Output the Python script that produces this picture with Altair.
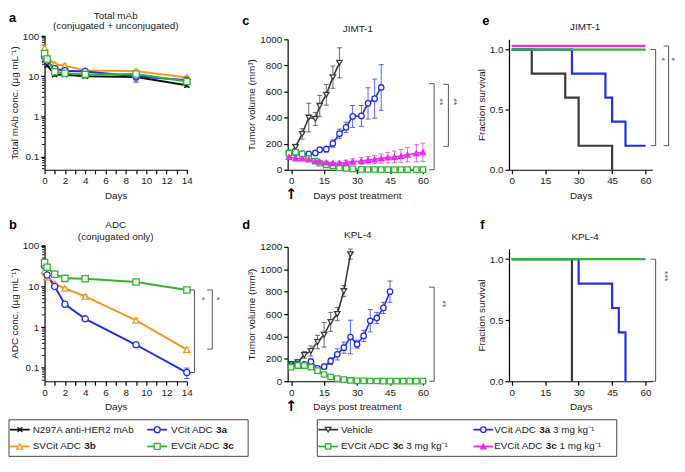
import altair as alt
import pandas as pd

FONT = "Liberation Sans"
INK = "#1a1a1a"
BR = "#555555"

C_BLACK = "#111111"
C_VEH = "#3a3a3a"
C_ORANGE = "#f7941d"
C_BLUE = "#1f2ee8"
C_GREEN = "#30b530"
C_MAGENTA = "#ec2aec"
X_PATH = "M-0.8,-0.8L0.8,0.8M-0.8,0.8L0.8,-0.8"

# ---------------- data: panels a, b (days after dosing) ----------------
pk_days = [0, 0.25, 1, 2, 4, 9, 14]

tot_n297a = [26, 19, 11, 11, 10, 9.6, 6.0]
tot_n297a_sd = [3, 2, 1, 1, 0.8, 2.4, 0.6]
tot_svcit = [51, 30, 20, 18.5, 14, 13.5, 9.4]
tot_svcit_sd = [9, 4, 2, 2, 1.5, 1.6, 1.0]
tot_vcit = [31, 24, 15.5, 13.8, 13.2, 10, 8.0]
tot_vcit_sd = [4, 3, 1.5, 1.2, 1.2, 2.0, 0.8]
tot_evcit = [37, 27, 13, 12, 11.2, 11.5, 7.4]
tot_evcit_sd = [5, 3, 1.5, 1.0, 1.0, 2.0, 0.8]

adc_svcit = [24, 17, 11.5, 8.9, 5.7, 1.47, 0.28]
adc_svcit_sd = [5, 2, 1.2, 0.8, 0.5, 0.15, 0.04]
adc_vcit = [32, 19, 10, 3.65, 1.6, 0.37, 0.077]
adc_vcit_sd = [5, 3, 1, 0.4, 0.15, 0.04, 0.022]
adc_evcit = [38.7, 29.6, 20, 15.8, 15.5, 12.8, 8.2]
adc_evcit_sd = [5, 3, 1.5, 1.5, 1.2, 1.2, 0.8]

# ---------------- data: panel c (JIMT-1 tumour volume) ----------------
c_days = [-1, 2, 5, 8, 11, 13, 16, 19, 22, 25, 28, 32, 35, 38, 41, 44, 47, 50, 53, 57, 60]
jimt_vehicle = [122, 175, 275, 400, 390, 490, 575, 710, 820]
jimt_vehicle_sem = [15, 20, 40, 110, 50, 80, 80, 85, 115]
jimt_vcit = [127, 127, 122, 122, 129, 153, 158, 201, 277, 325, 409, 413, 509, 545, 631]
jimt_vcit_sem = [12, 12, 12, 12, 15, 20, 22, 28, 35, 40, 84, 80, 120, 150, 175]
jimt_evcit3 = [127, 134, 122, 86, 67, 50, 38, 31, 14, 10, 7, 3, 2, 2, 1, 1, 1, 1, 1, 1, 1]
jimt_evcit3_sem = [15, 15, 15, 12, 10, 8, 8, 6, 5, 4, 3, 2, 1, 1, 1, 1, 1, 1, 1, 1, 1]
jimt_evcit1 = [98, 86, 86, 79, 67, 62, 55, 50, 50, 55, 62, 67, 74, 79, 86, 93, 98, 105, 115, 127, 134]
jimt_evcit1_sem = [10, 10, 10, 10, 10, 10, 12, 12, 15, 18, 22, 25, 28, 32, 35, 40, 45, 50, 55, 65, 70]

# ---------------- data: panel d (KPL-4 tumour volume) ----------------
d_days = [0, 3, 6, 9, 12, 15, 18, 21, 24, 27, 30, 33, 36, 39, 42, 45, 48, 51, 54, 57, 60]
kpl_vehicle = [155, 170, 235, 270, 350, 415, 530, 600, 805, 1135]
kpl_vehicle_sem = [15, 20, 30, 45, 60, 110, 85, 60, 50, 45]
kpl_vcit = [140, 150, 150, 175, 115, 130, 180, 240, 300, 395, 330, 405, 540, 565, 655, 800]
kpl_vcit_sem = [15, 15, 15, 25, 15, 20, 30, 50, 50, 150, 35, 50, 100, 50, 50, 95]
kpl_evcit3 = [125, 140, 140, 125, 95, 60, 38, 23, 14, 7, 4, 3, 2, 2, 1, 1, 1, 1, 1, 1, 1]
kpl_evcit3_sem = [15, 20, 20, 20, 15, 10, 8, 6, 5, 3, 2, 1, 1, 1, 1, 1, 1, 1, 1, 1, 1]

# ---------------- data: panels e, f (survival) ----------------
e_vehicle_t = [0, 9, 24, 30, 45]
e_vehicle_s = [1.0, 0.8, 0.6, 0.2, 0.0]
e_vcit_t = [0, 27, 42, 45, 51, 60]
e_vcit_s = [1.0, 0.8, 0.6, 0.4, 0.2, 0.2]
e_evcit3_t = [0, 60]
e_evcit3_s = [1.0, 1.0]
e_evcit1_t = [0, 60]
e_evcit1_s = [1.03, 1.03]

f_vehicle_t = [0, 27]
f_vehicle_s = [1.0, 0.0]
f_vcit_t = [0, 30, 45, 48, 51]
f_vcit_s = [1.0, 0.8, 0.6, 0.4, 0.0]
f_evcit3_t = [0, 60]
f_evcit3_s = [1.0, 1.0]

# ---------------- significance brackets ----------------
b_br_x = [14.75, 16.5]; b_br_top = [8.2, 8.2]; b_br_bot = [0.077, 0.29]
b_st_x = [15.5, 16.95]; b_st_y = [5.0, 5.0]; b_st_t = ["*", "*"]
c_br_x = [65.1, 71.6]; c_br_top = [660, 655]; c_br_bot = [0, 180]
c_st_x = [67.8, 74.3]; c_st_y = [520, 520]; c_st_t = ["**", "**"]
d_br_x = [65.1]; d_br_top = [840]; d_br_bot = [0]
d_st_x = [69.3]; d_st_y = [690]; d_st_t = ["**"]
e_br_x = [64.5, 70.3]; e_br_top = [1.0, 1.03]; e_br_bot = [0.2, 0.2]
e_st_x = [67.2, 72.0]; e_st_y = [0.92, 0.92]; e_st_t = ["*", "*"]
f_br_x = [64.5]; f_br_top = [1.0]; f_br_bot = [0.0]
f_st_x = [68.6]; f_st_y = [0.86]; f_st_t = ["***"]

MU = "\u00b5g mL\u207b\u00b9"

# ---------------- helpers ----------------
def series_df(names, xs_list, ys_list, sd_list, floor=None):
    rows = []
    for n, xs, ys, sds in zip(names, xs_list, ys_list, sd_list):
        for x, y, s in zip(xs, ys, sds):
            lo = y - s
            if floor is not None:
                lo = max(lo, floor)
            rows.append({"s": n, "x": x, "y": y, "lo": lo, "hi": y + s})
    return pd.DataFrame(rows)


def bracket_layers(bx, top, bot, tick, sx, sy, st, X, Y):
    bdf = pd.DataFrame({"bx": bx, "bt": [v - tick for v in bx], "y1": top, "y2": bot})
    sdf = pd.DataFrame({"sx": sx, "sy": sy, "t": st})
    xs, xa = X
    ys, ya = Y
    r = alt.Chart(bdf)
    return [
        r.mark_rule(color=BR, strokeWidth=1).encode(
            x=alt.X("bx:Q", scale=xs, axis=xa), y=alt.Y("y1:Q", scale=ys, axis=ya), y2="y2:Q"),
        r.mark_rule(color=BR, strokeWidth=1).encode(
            x=alt.X("bt:Q", scale=xs, axis=xa), x2="bx:Q", y=alt.Y("y1:Q", scale=ys, axis=ya)),
        r.mark_rule(color=BR, strokeWidth=1).encode(
            x=alt.X("bt:Q", scale=xs, axis=xa), x2="bx:Q", y=alt.Y("y2:Q", scale=ys, axis=ya)),
        alt.Chart(sdf).mark_text(angle=90, fontSize=9, color=BR, font=FONT, baseline="middle", align="center").encode(
            x=alt.X("sx:Q", scale=xs, axis=xa), y=alt.Y("sy:Q", scale=ys, axis=ya), text="t:N"),
    ]


def header_layers(letter, lx, ly, lines, cx):
    out = [alt.Chart(pd.DataFrame({"l": [letter]})).mark_text(
        font=FONT, fontSize=13, fontWeight="bold", color="black", align="left", baseline="middle"
    ).encode(x=alt.value(lx), y=alt.value(ly), text="l:N")]
    for txt, ty in lines:
        out.append(alt.Chart(pd.DataFrame({"t": [txt]})).mark_text(
            font=FONT, fontSize=10, color=INK, align="center", baseline="middle"
        ).encode(x=alt.value(cx), y=alt.value(ty), text="t:N"))
    return out


def data_panel(df, order, colors, shapes, fills, X, Y, W, H, header,
               lw, msize, cap, brackets, minor=None, arrow=False):
    xs, xa = X
    ys, ya = Y
    cs = alt.Scale(domain=order, range=colors)
    base = alt.Chart(df)
    L = []
    if minor is not None:
        L.append(alt.Chart(pd.DataFrame({"v": minor})).mark_rule(color="black", strokeWidth=1).encode(
            y=alt.Y("v:Q", scale=ys, axis=ya), x=alt.value(-2.5), x2=alt.value(0)))
    L.append(base.mark_rule(strokeWidth=1, opacity=0.75).encode(
        x=alt.X("x:Q", scale=xs, axis=xa), y=alt.Y("lo:Q", scale=ys, axis=ya), y2="hi:Q",
        color=alt.Color("s:N", scale=cs, legend=None)))
    for fld in ["lo", "hi"]:
        L.append(base.mark_point(shape="stroke", size=cap, strokeWidth=1, opacity=0.75, filled=False).encode(
            x=alt.X("x:Q", scale=xs, axis=xa), y=alt.Y(f"{fld}:Q", scale=ys, axis=ya),
            color=alt.Color("s:N", scale=cs, legend=None)))
    L.append(base.mark_line(strokeWidth=lw).encode(
        x=alt.X("x:Q", scale=xs, axis=xa), y=alt.Y("y:Q", scale=ys, axis=ya),
        color=alt.Color("s:N", scale=cs, legend=None)))
    L.append(base.mark_point(filled=True, size=msize, strokeWidth=1.3, opacity=1).encode(
        x=alt.X("x:Q", scale=xs, axis=xa), y=alt.Y("y:Q", scale=ys, axis=ya),
        shape=alt.Shape("s:N", scale=alt.Scale(domain=order, range=shapes), legend=None),
        fill=alt.Fill("s:N", scale=alt.Scale(domain=order, range=fills), legend=None),
        stroke=alt.Stroke("s:N", scale=cs, legend=None)))
    if brackets is not None:
        L += bracket_layers(*brackets, X, Y)
    if arrow:
        L.append(alt.Chart(pd.DataFrame({"x": [0], "t": ["\u2191"]})).mark_text(
            font="DejaVu Sans", fontSize=15, fontWeight="bold", color="black", baseline="middle"
        ).encode(x=alt.X("x:Q", scale=xs, axis=xa), y=alt.value(H + 25), text="t:N"))
    L += header_layers(*header)
    return alt.layer(*L).properties(width=W, height=H)


def surv_panel(series, X, Y, W, H, header, brackets):
    xs, xa = X
    ys, ya = Y
    L = []
    for t, s, c in series:
        L.append(alt.Chart(pd.DataFrame({"x": t, "y": s})).mark_line(
            interpolate="step-after", strokeWidth=2.2, color=c).encode(
            x=alt.X("x:Q", scale=xs, axis=xa), y=alt.Y("y:Q", scale=ys, axis=ya)))
    L += bracket_layers(*brackets, X, Y)
    L += header_layers(*header)
    return alt.layer(*L).properties(width=W, height=H)


# ---------------- layout constants ----------------
H1, H2 = 136, 138
W1, W1R, W2, W3 = 162, 144, 140, 145

log_minor = [m * 10.0 ** e for e in [-2, -1, 0, 1] for m in range(2, 10)] + [100]
log_minor = [v for v in log_minor if 0.047 <= v <= 105]

pk_x_axis = alt.Axis(title="Days", values=list(range(15)),
                     labelExpr="datum.value % 2 == 0 ? datum.label : ''", titlePadding=5)
pk_xs = alt.Scale(domain=[0, 14], range=[0, W1R], nice=False, zero=False)

def log_y(title):
    return (alt.Scale(type="log", domain=[0.047, 105], nice=False),
            alt.Axis(title=title, values=[0.1, 1, 10, 100], format="~g", titlePadding=3))

tv_xs = alt.Scale(domain=[-1.6, 61.4], nice=False, zero=False)
tv_xa = alt.Axis(title="Days post treatment", values=[0, 15, 30, 45, 60], titlePadding=5)
sv_xs = alt.Scale(domain=[-1.2, 63], nice=False, zero=False)
sv_xa = alt.Axis(title="Days", values=[0, 15, 30, 45, 60], titlePadding=5)

pk_order = ["N297A", "SVCit", "VCit", "EVCit"]
pk_colors = [C_BLACK, C_ORANGE, C_BLUE, C_GREEN]
pk_shapes = [X_PATH, "triangle-up", "circle", "square"]
pk_fills = ["white", "white", "white", "white"]

# panel a
a_df = series_df(pk_order, [pk_days] * 4, [tot_n297a, tot_svcit, tot_vcit, tot_evcit],
                 [tot_n297a_sd, tot_svcit_sd, tot_vcit_sd, tot_evcit_sd], floor=0.05)
a_ys, a_ya = log_y(f"Total mAb conc. ({MU})")
panel_a = data_panel(a_df, pk_order, pk_colors, pk_shapes, pk_fills,
                     (pk_xs, pk_x_axis), (a_ys, a_ya), W1, H1,
                     ("a", -36, -18, [("Total mAb", -20), ("(conjugated + unconjugated)", -9)], 72),
                     2, 40, 30, None, minor=log_minor)

# panel b
b_order = ["SVCit", "VCit", "EVCit"]
b_df = series_df(b_order, [pk_days] * 3, [adc_svcit, adc_vcit, adc_evcit],
                 [adc_svcit_sd, adc_vcit_sd, adc_evcit_sd], floor=0.05)
b_ys, b_ya = log_y(f"ADC conc. ({MU})")
panel_b = data_panel(b_df, b_order, [C_ORANGE, C_BLUE, C_GREEN], ["triangle-up", "circle", "square"],
                     ["white"] * 3, (pk_xs, pk_x_axis), (b_ys, b_ya), W1, H2,
                     ("b", -36, -20, [("ADC", -20), ("(conjugated only)", -8)], 72),
                     2, 40, 30,
                     (b_br_x, b_br_top, b_br_bot, 0.5, b_st_x, b_st_y, b_st_t), minor=log_minor)

# panel c
tv_order = ["Vehicle", "VCit3", "EVCit3", "EVCit1"]
tv_colors = [C_VEH, C_BLUE, C_GREEN, C_MAGENTA]
tv_shapes = ["triangle-down", "circle", "square", "triangle-up"]
tv_fills = ["white", "white", "white", C_MAGENTA]
c_df = series_df(tv_order, [c_days] * 4, [jimt_vehicle, jimt_vcit, jimt_evcit3, jimt_evcit1],
                 [jimt_vehicle_sem, jimt_vcit_sem, jimt_evcit3_sem, jimt_evcit1_sem], floor=0)
c_ys = alt.Scale(domain=[0, 1000], range=[H1, 4], nice=False, zero=False)
c_ya = alt.Axis(title="Tumor volume (mm\u00b3)", values=[0, 200, 400, 600, 800, 1000],
                format="d", titlePadding=3)
panel_c = data_panel(c_df, tv_order, tv_colors, tv_shapes, tv_fills,
                     (tv_xs, tv_xa), (c_ys, c_ya), W2, H1,
                     ("c", -46, -15, [("JIMT-1", -6)], 71),
                     1.6, 30, 25,
                     (c_br_x, c_br_top, c_br_bot, 2.3, c_st_x, c_st_y, c_st_t), arrow=True)

# panel d
d_order = ["Vehicle", "VCit3", "EVCit3"]
d_df = series_df(d_order, [d_days] * 3, [kpl_vehicle, kpl_vcit, kpl_evcit3],
                 [kpl_vehicle_sem, kpl_vcit_sem, kpl_evcit3_sem], floor=0)
d_ys = alt.Scale(domain=[0, 1200], range=[H2, 2], nice=False, zero=False)
d_ya = alt.Axis(title="Tumor volume (mm\u00b3)", values=[0, 200, 400, 600, 800, 1000, 1200],
                format="d", titlePadding=3)
panel_d = data_panel(d_df, d_order, tv_colors[:3], tv_shapes[:3], tv_fills[:3],
                     (tv_xs, tv_xa), (d_ys, d_ya), W2, H2,
                     ("d", -46, -20, [("KPL-4", -10)], 71),
                     1.6, 30, 25,
                     (d_br_x, d_br_top, d_br_bot, 2.3, d_st_x, d_st_y, d_st_t), arrow=True)

# panel e
e_ys = alt.Scale(domain=[0, 1.085], range=[H1, 4], nice=False, zero=False)
sv_ya = alt.Axis(title="Fraction survival", values=[0, 0.5, 1.0], format=".1f", titlePadding=3)
panel_e = surv_panel([(e_vehicle_t, e_vehicle_s, C_VEH), (e_vcit_t, e_vcit_s, C_BLUE),
                      (e_evcit1_t, e_evcit1_s, C_MAGENTA), (e_evcit3_t, e_evcit3_s, C_GREEN)],
                     (sv_xs, sv_xa), (e_ys, sv_ya), W3, H1,
                     ("e", -27, -15, [("JIMT-1", -8)], 77),
                     (e_br_x, e_br_top, e_br_bot, 2.2, e_st_x, e_st_y, e_st_t))

# panel f
f_ys = alt.Scale(domain=[0, 1.085], range=[H2, 4], nice=False, zero=False)
panel_f = surv_panel([(f_vehicle_t, f_vehicle_s, C_VEH), (f_vcit_t, f_vcit_s, C_BLUE),
                      (f_evcit3_t, f_evcit3_s, C_GREEN)],
                     (sv_xs, sv_xa), (f_ys, sv_ya), W3, H2,
                     ("f", -29, -20, [("KPL-4", -8)], 77),
                     (f_br_x, f_br_top, f_br_bot, 2.2, f_st_x, f_st_y, f_st_t))

# ---------------- legends ----------------
REG_W = {"V": 667, "C": 722, "i": 222, "t": 278, " ": 278, "A": 667, "D": 722, "S": 667, "E": 667}
BOLD_W = {"3": 556, "a": 556, "b": 611, "c": 556}
SPACE_W = 2.78

def tw(s, table):
    return sum(table.get(ch, 556) for ch in s) / 100.0

leg_left_labels = [("N297A anti-HER2 mAb", "", ""), ("VCit ADC ", "3a", ""),
                   ("SVCit ADC ", "3b", ""), ("EVCit ADC ", "3c", "")]
leg_left_colors = [C_BLACK, C_BLUE, C_ORANGE, C_GREEN]
leg_left_shapes = [X_PATH, "circle", "triangle-up", "square"]
leg_left_fills = ["white", "white", "white", "white"]

leg_right_labels = [("Vehicle", "", ""), ("VCit ADC ", "3a", "3 mg kg\u207b\u00b9"),
                    ("EVCit ADC ", "3c", "3 mg kg\u207b\u00b9"), ("EVCit ADC ", "3c", "1 mg kg\u207b\u00b9")]
leg_right_colors = [C_VEH, C_BLUE, C_GREEN, C_MAGENTA]
leg_right_shapes = ["triangle-down", "circle", "square", "triangle-up"]
leg_right_fills = ["white", "white", "white", C_MAGENTA]

leg_cols = [0, 1, 0, 1]
leg_rows = [0, 0, 1, 1]


def legend_cell(labels, colors, shapes, fills, sym_x, txt_x, row_y, box, W, msize):
    rows = []
    for (pre, bold, suf), c, sh, fi, co, ro in zip(labels, colors, shapes, fills, leg_cols, leg_rows):
        tx = txt_x[co]
        bx = tx + tw(pre, REG_W)
        sx = bx + tw(bold, BOLD_W) + SPACE_W
        rows.append({"px": sym_x[co], "p0": sym_x[co] - 10, "p1": sym_x[co] + 10, "py": row_y[ro],
                     "c": c, "sh": sh, "fi": fi, "pre": pre, "bold": bold, "suf": suf,
                     "tx": tx, "bx": bx, "sx": sx})
    df = pd.DataFrame(rows)
    bdf = pd.DataFrame({"x1": [box[0]], "x2": [box[1]], "y1": [box[2]], "y2": [box[3]]})
    base = alt.Chart(df)
    N = dict(scale=None, axis=None)
    txt = dict(font=FONT, fontSize=10, color=INK, align="left", baseline="middle")
    L = [
        alt.Chart(bdf).mark_rect(fillOpacity=0, stroke="#444444", strokeWidth=1).encode(
            x=alt.X("x1:Q", **N), x2="x2:Q", y=alt.Y("y1:Q", **N), y2="y2:Q"),
        base.mark_rule(strokeWidth=1.8).encode(
            x=alt.X("p0:Q", **N), x2="p1:Q", y=alt.Y("py:Q", **N), color=alt.Color("c:N", scale=None)),
        base.mark_point(filled=True, size=msize, strokeWidth=1.3, opacity=1).encode(
            x=alt.X("px:Q", **N), y=alt.Y("py:Q", **N),
            shape=alt.Shape("sh:N", scale=None), fill=alt.Fill("fi:N", scale=None),
            stroke=alt.Stroke("c:N", scale=None)),
        base.mark_text(**txt).encode(x=alt.X("tx:Q", **N), y=alt.Y("py:Q", **N), text="pre:N"),
        base.transform_filter("datum.bold != ''").mark_text(fontWeight="bold", **txt).encode(
            x=alt.X("bx:Q", **N), y=alt.Y("py:Q", **N), text="bold:N"),
        base.transform_filter("datum.suf != ''").mark_text(**txt).encode(
            x=alt.X("sx:Q", **N), y=alt.Y("py:Q", **N), text="suf:N"),
    ]
    return alt.layer(*L).properties(width=W, height=1)


legend_left = legend_cell(leg_left_labels, leg_left_colors, leg_left_shapes, leg_left_fills,
                          [-25, 114], [-12, 128], [-27, -10], [-36, 206, -37, 0], W1, 36)
legend_right = legend_cell(leg_right_labels, leg_right_colors, leg_right_shapes, leg_right_fills,
                           [41, 198], [54, 209], [-27, -10], [30, 333, -37, 0], W2, 30)

chart = alt.concat(
    panel_a, panel_c, panel_e,
    panel_b, panel_d, panel_f,
    legend_left, legend_right,
    columns=3, spacing={"row": 76, "column": 84}, bounds="flush", align="each",
).resolve_scale(
    color="independent", shape="independent", fill="independent", stroke="independent"
).properties(
    padding={"left": 0, "top": 0, "right": 0, "bottom": 0}
).configure_view(
    stroke=None
).configure_axis(
    domainColor="black", domainWidth=1.2, tickColor="black", tickWidth=1.2, tickSize=4,
    labelFont=FONT, labelFontSize=10, labelColor=INK, labelPadding=2,
    titleFont=FONT, titleFontSize=10, titleFontWeight="normal", titleColor=INK,
    grid=False, labelFlush=False, labelOverlap=False, minExtent=0,
)

chart.save("out.html", embed_options={"renderer": "svg", "actions": False})
